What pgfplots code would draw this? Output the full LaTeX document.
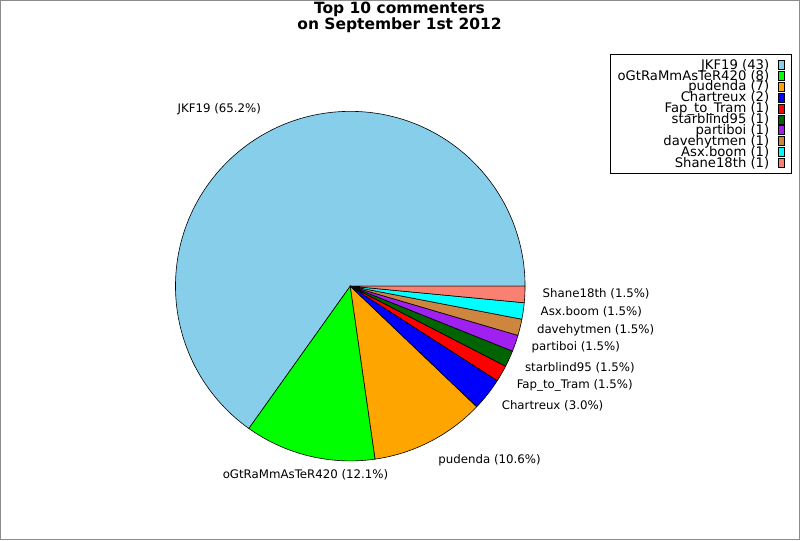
\documentclass[border=0pt]{standalone}
\usepackage{pgfplots}
\pgfplotsset{compat=1.18}
\usepackage{fontspec}
\setmainfont{DejaVu Sans}

\definecolor{cjkf}{RGB}{135,206,235}
\definecolor{cogt}{RGB}{0,255,0}
\definecolor{cpud}{RGB}{255,165,0}
\definecolor{ccha}{RGB}{0,0,255}
\definecolor{cfap}{RGB}{255,0,0}
\definecolor{csta}{RGB}{0,100,0}
\definecolor{cpar}{RGB}{160,32,240}
\definecolor{cdav}{RGB}{205,133,63}
\definecolor{casx}{RGB}{0,255,255}
\definecolor{csha}{RGB}{250,128,114}

% pie centre (axis units = px), radius, total count
\def\cx{350.2}
\def\cy{254}
\def\rad{175pt}
\def\total{66}
% #1 = count before this slice, #2 = count of slice, #3 = colour
\newcommand\slice[3]{%
  \fill[#3, draw=black, line width=0.6pt] (axis cs:\cx,\cy) -- ++({#1/\total*360}:\rad)
    arc[start angle={#1/\total*360}, delta angle={#2/\total*360}, radius=\rad] -- cycle;
  \addlegendimage{fill=#3, draw=black}}

\begin{document}
\begin{tikzpicture}
\begin{axis}[
    scale only axis,
    width=800pt, height=540pt,
    xmin=0, xmax=800, ymin=0, ymax=540,
    xtick=\empty, ytick=\empty,
    axis line style={draw=gray!90, line width=1pt},
    clip=false,
    legend plot pos=right,
    legend cell align=right,
    legend image code/.code={\draw[#1, line width=0.6pt] (0pt,-4.5pt) rectangle (6pt,4.5pt);},
    legend style={
        at={(axis cs:792.7,486)}, anchor=north east,
        draw=black, line width=0.8pt, fill=white,
        inner xsep=7pt, inner ysep=4.5pt,
        row sep=0pt,
        /tikz/every odd column/.append style={column sep=9pt},
        nodes={inner sep=0pt, text height=9.8pt, text depth=1.13pt},
        font=\fontsize{13.2}{13.2}\selectfont
    }
]
\slice{0}{43}{cjkf}
\slice{43}{8}{cogt}
\slice{51}{7}{cpud}
\slice{58}{2}{ccha}
\slice{60}{1}{cfap}
\slice{61}{1}{csta}
\slice{62}{1}{cpar}
\slice{63}{1}{cdav}
\slice{64}{1}{casx}
\slice{65}{1}{csha}
\legend{JKF19 (43), oGtRaMmAsTeR420 (8), pudenda (7), Chartreux (2), Fap\_to\_Tram (1),
        starblind95 (1), partiboi (1), davehytmen (1), Asx.boom (1), Shane18th (1)}

\begin{scope}[every node/.style={inner sep=0pt, font=\fontsize{11.8}{13}\selectfont}]
\node[anchor=east]   at (axis cs:261,431)   {JKF19 (65.2\%)};
\node[anchor=center] at (axis cs:305.4,65)  {oGtRaMmAsTeR420 (12.1\%)};
\node[anchor=west]   at (axis cs:438.3,80)  {pudenda (10.6\%)};
\node[anchor=west]   at (axis cs:501.7,134) {Chartreux (3.0\%)};
\node[anchor=west]   at (axis cs:516.7,155) {Fap\_to\_Tram (1.5\%)};
\node[anchor=west]   at (axis cs:525,172)   {starblind95 (1.5\%)};
\node[anchor=west]   at (axis cs:531.7,193) {partiboi (1.5\%)};
\node[anchor=west]   at (axis cs:537,210)   {davehytmen (1.5\%)};
\node[anchor=west]   at (axis cs:540.7,228) {Asx.boom (1.5\%)};
\node[anchor=west]   at (axis cs:542.7,246) {Shane18th (1.5\%)};
\end{scope}

\node[align=center, inner sep=0pt, font=\bfseries\fontsize{15.5}{15}\selectfont]
    at (axis cs:399.5,523.5) {Top 10 commenters\\on September 1st 2012};
\end{axis}
\end{tikzpicture}
\end{document}
